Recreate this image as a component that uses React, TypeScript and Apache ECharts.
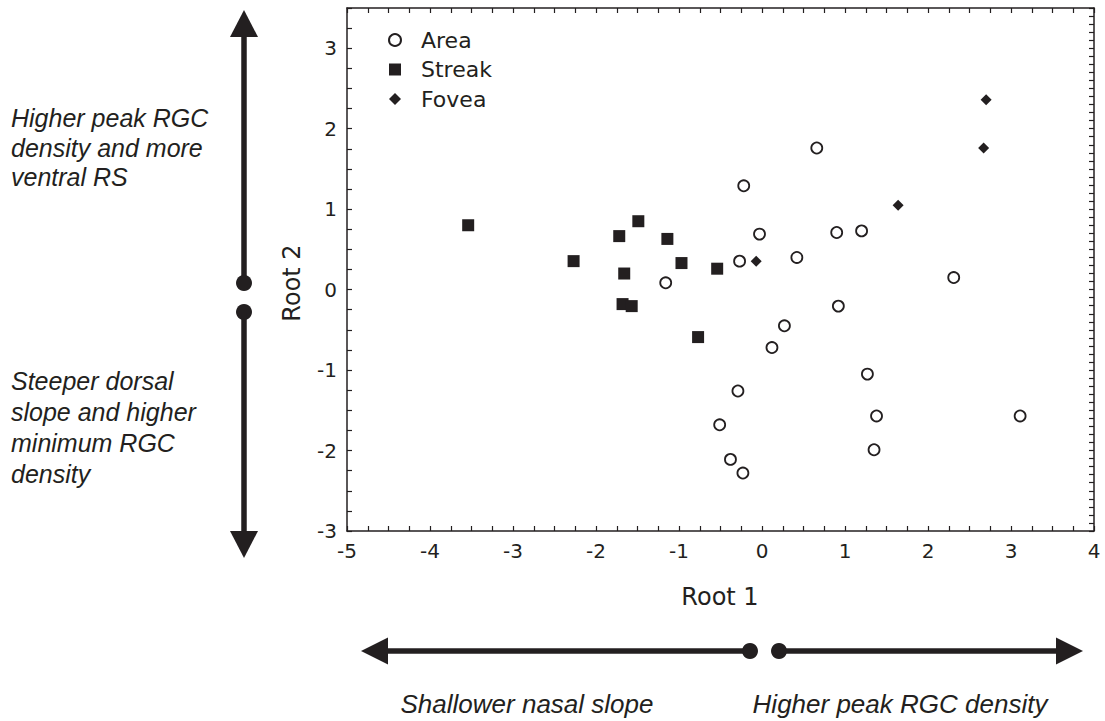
import React, { useEffect, useRef } from "react";
import * as echarts from "echarts";

const INK = "#231f20";

// Discriminant scores [Root 1, Root 2]
const areaPoints: [number, number][] = [
  [-1.16, 0.085], [-0.27, 0.354], [0.42, 0.40], [0.66, 1.76], [-0.22, 1.29],
  [-0.03, 0.69], [0.90, 0.71], [1.20, 0.73], [2.31, 0.15], [0.92, -0.205],
  [0.27, -0.45], [0.12, -0.72], [1.27, -1.05], [-0.29, -1.26], [1.38, -1.57],
  [3.11, -1.57], [-0.51, -1.68], [1.35, -1.99], [-0.38, -2.11], [-0.23, -2.28],
];
const streakPoints: [number, number][] = [
  [-3.54, 0.80], [-2.27, 0.354], [-1.72, 0.665], [-1.49, 0.85], [-1.14, 0.63],
  [-0.97, 0.33], [-1.66, 0.20], [-0.54, 0.26], [-1.68, -0.18], [-1.57, -0.205],
  [-0.77, -0.59],
];
const foveaPoints: [number, number][] = [
  [-0.07, 0.354], [1.64, 1.05], [2.67, 1.76], [2.70, 2.36],
];

const seriesNames = ["Area", "Streak", "Fovea"];
const xRange = { min: -5, max: 4 };
const yRange = { min: -3, max: 3.5 };
const xAxisTitle = "Root 1";
const yAxisTitle = "Root 2";
const upText = ["Higher peak RGC", "density and more", "ventral RS"];
const downText = ["Steeper dorsal", "slope and higher", "minimum RGC", "density"];
const leftText = "Shallower nasal slope";
const rightText = "Higher peak RGC density";

const AXIS_FONT = "DejaVu Sans";
const ITALIC_FONT = "Liberation Sans";

export default function App() {
  const ref = useRef<HTMLDivElement>(null);

  useEffect(() => {
    if (!ref.current) return;
    const chart = echarts.init(ref.current, undefined, { renderer: "svg" });

    const intLabel = (v: number) =>
      Math.abs(v - Math.round(v)) < 1e-6 ? String(Math.round(v)) : "";

    const baseAxis = {
      type: "value" as const,
      axisLine: { show: true, onZero: false, lineStyle: { color: INK, width: 1.5 } },
      splitLine: { show: false },
    };
    const tick = { show: true, inside: true, length: 5, lineStyle: { color: INK, width: 1.2 } };

    const xAxes = [
      {
        ...baseAxis,
        position: "bottom",
        min: xRange.min,
        max: xRange.max,
        interval: 0.25,
        axisTick: tick,
        axisLabel: {
          show: true,
          margin: 10,
          color: INK,
          fontSize: 20,
          fontFamily: AXIS_FONT,
          formatter: intLabel,
        },
      },
      {
        ...baseAxis,
        position: "top",
        min: xRange.min,
        max: xRange.max,
        interval: 0.25,
        axisTick: tick,
        axisLabel: { show: false },
      },
    ];

    const yAxes = [
      {
        ...baseAxis,
        position: "left",
        min: yRange.min,
        max: yRange.max,
        interval: 0.25,
        axisTick: tick,
        axisLabel: {
          show: true,
          margin: 10,
          color: INK,
          fontSize: 20,
          fontFamily: AXIS_FONT,
          formatter: intLabel,
        },
      },
      {
        ...baseAxis,
        position: "right",
        min: yRange.min,
        max: yRange.max,
        interval: 0.1,
        axisTick: tick,
        axisLabel: { show: false },
      },
    ];

    const lineStroke = { stroke: INK, lineWidth: 5.5 };
    const fill = { fill: INK };

    const italic = (t: string, x: number, y: number, align: string, size: number) => ({
      type: "text",
      x,
      y,
      style: {
        text: t,
        fontSize: size,
        fontStyle: "italic",
        fontFamily: ITALIC_FONT,
        fill: INK,
        align,
        verticalAlign: "middle",
      },
    });

    const graphics: any[] = [
      // vertical arrow
      { type: "line", shape: { x1: 244, y1: 34, x2: 244, y2: 283 }, style: lineStroke },
      { type: "polygon", shape: { points: [[244, 10], [230, 37], [258, 37]] }, style: fill },
      { type: "circle", shape: { cx: 244, cy: 283, r: 8 }, style: fill },
      { type: "circle", shape: { cx: 244, cy: 312, r: 8 }, style: fill },
      { type: "line", shape: { x1: 244, y1: 312, x2: 244, y2: 534 }, style: lineStroke },
      { type: "polygon", shape: { points: [[244, 558], [230, 531], [258, 531]] }, style: fill },
      // horizontal arrow
      { type: "line", shape: { x1: 386, y1: 651, x2: 751, y2: 651 }, style: lineStroke },
      { type: "polygon", shape: { points: [[361, 651], [388, 637.5], [388, 664.5]] }, style: fill },
      { type: "circle", shape: { cx: 750, cy: 651, r: 8 }, style: fill },
      { type: "circle", shape: { cx: 779, cy: 651, r: 8 }, style: fill },
      { type: "line", shape: { x1: 779, y1: 651, x2: 1059, y2: 651 }, style: lineStroke },
      { type: "polygon", shape: { points: [[1083, 651], [1056, 637.5], [1056, 664.5]] }, style: fill },
      // axis titles
      {
        type: "text",
        x: 720,
        y: 597,
        style: {
          text: xAxisTitle,
          fontSize: 24,
          fontFamily: AXIS_FONT,
          fill: INK,
          align: "center",
          verticalAlign: "middle",
        },
      },
      {
        type: "text",
        x: 292,
        y: 283,
        rotation: Math.PI / 2,
        style: {
          text: yAxisTitle,
          fontSize: 24,
          fontFamily: AXIS_FONT,
          fill: INK,
          align: "center",
          verticalAlign: "middle",
        },
      },
      ...upText.map((t, i) => italic(t, 11, 118 + i * 29.5, "left", 25)),
      ...downText.map((t, i) => italic(t, 11, 381 + i * 31, "left", 25)),
      italic(leftText, 527, 704, "center", 26),
      italic(rightText, 900, 704, "center", 26),
    ];

    chart.setOption({
      animation: false,
      backgroundColor: "#ffffff",
      grid: { left: 347, top: 8, width: 747, height: 523, containLabel: false },
      xAxis: xAxes,
      yAxis: yAxes,
      legend: {
        orient: "vertical",
        left: 383,
        top: 24,
        itemWidth: 12,
        itemHeight: 12,
        itemGap: 7.5,
        symbolKeepAspect: true,
        textStyle: {
          color: INK,
          fontSize: 22,
          fontFamily: AXIS_FONT,
          padding: [0, 0, 0, 15],
        },
        data: seriesNames,
      },
      series: [
        {
          name: seriesNames[0],
          type: "scatter",
          symbol: "circle",
          symbolSize: 11,
          itemStyle: { color: "#ffffff", borderColor: INK, borderWidth: 1.8, opacity: 1 },
          data: areaPoints,
        },
        {
          name: seriesNames[1],
          type: "scatter",
          symbol: "rect",
          symbolSize: 12,
          itemStyle: { color: INK, opacity: 1 },
          data: streakPoints,
        },
        {
          name: seriesNames[2],
          type: "scatter",
          symbol: "diamond",
          symbolSize: 11,
          itemStyle: { color: INK, opacity: 1 },
          data: foveaPoints,
        },
      ],
      graphic: graphics,
    });

    return () => chart.dispose();
  }, []);

  return (
    <div
      ref={ref}
      style={{ position: "fixed", left: 0, top: 0, width: 1105, height: 721, background: "#fff" }}
    />
  );
}
